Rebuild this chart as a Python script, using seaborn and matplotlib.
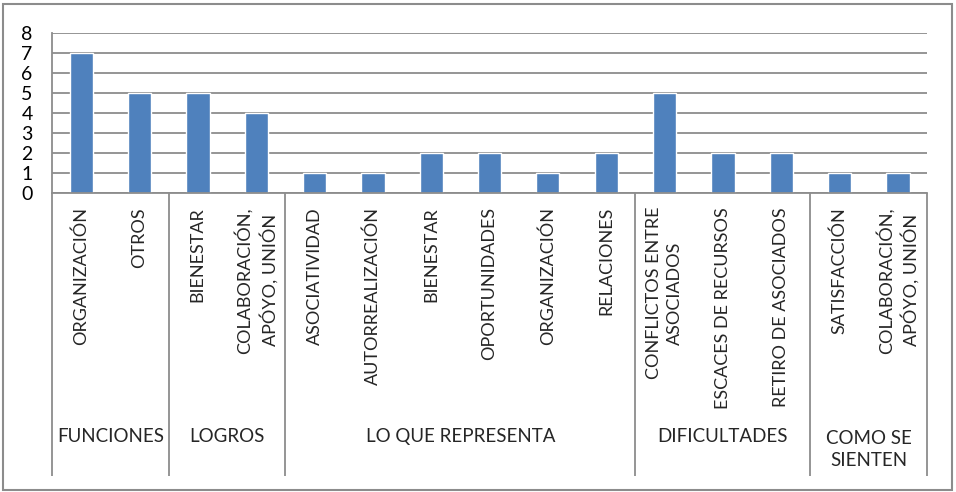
import pandas as pd
import seaborn as sns
import matplotlib.pyplot as plt
from matplotlib.patches import Rectangle
from matplotlib.transforms import blended_transform_factory

# data
grupos = ['FUNCIONES', 'LOGROS', 'LO QUE REPRESENTA', 'DIFICULTADES', 'COMO SE\nSIENTEN']
grupo_labels = [
    ['ORGANIZACIÓN', 'OTROS'],
    ['BIENESTAR', 'COLABORACIÓN,\nAPÓYO, UNIÓN'],
    ['ASOCIATIVIDAD', 'AUTORREALIZACIÓN', 'BIENESTAR', 'OPORTUNIDADES', 'ORGANIZACIÓN', 'RELACIONES'],
    ['CONFLICTOS ENTRE\nASOCIADOS', 'ESCACES DE RECURSOS', 'RETIRO DE ASOCIADOS'],
    ['SATISFACCIÓN', 'COLABORACIÓN,\nAPÓYO, UNIÓN'],
]
grupo_valores = [
    [7, 5],
    [5, 4],
    [1, 1, 2, 2, 1, 2],
    [5, 2, 2],
    [1, 1],
]

rows = []
for g, labs, vals in zip(grupos, grupo_labels, grupo_valores):
    for l, v in zip(labs, vals):
        rows.append({'grupo': g, 'etiqueta': l, 'valor': v, 'key': g + '|' + l})
df = pd.DataFrame(rows)

sns.set_style('white')
plt.rcParams['font.family'] = ['Lato', 'DejaVu Sans']

fig = plt.figure(figsize=(9.56, 4.92), dpi=100)
W, H = 956, 492
ax = fig.add_axes([52 / W, (H - 193) / H, 875 / W, 160 / H])

sns.barplot(data=df, x='key', y='valor', order=list(df['key']), color='#4F81BD',
            saturation=1, width=0.4, ax=ax)

ax.set_ylim(0, 8)
ax.set_yticks(range(0, 9))
ax.yaxis.grid(True, color='#8C8C8C', linewidth=1.3)
ax.set_axisbelow(True)
ax.set_xlabel('')
ax.set_ylabel('')
ax.tick_params(axis='y', length=0, pad=14, labelsize=14, labelcolor='black')
ax.tick_params(axis='x', length=0, pad=10)
ax.set_xticks(range(len(df)))
ax.set_xticklabels(df['etiqueta'], rotation=90, va='top', ha='center',
                   fontsize=13, multialignment='center', linespacing=1.4)

for s in ['top', 'right']:
    ax.spines[s].set_visible(False)
ax.spines['left'].set_color('#8C8C8C')
ax.spines['bottom'].set_color('#8C8C8C')
ax.spines['left'].set_linewidth(1.3)
ax.spines['bottom'].set_linewidth(1.3)

# group separators and group labels below the axis
trans = blended_transform_factory(ax.transData, ax.transAxes)
y_low = -(476 - 193) / 160
bounds = [-0.5]
pos = -0.5
for vals in grupo_valores:
    pos += len(vals)
    bounds.append(pos)
for b in bounds:
    ax.plot([b, b], [0, y_low], transform=trans, color='#8C8C8C', lw=1.3,
            clip_on=False, solid_capstyle='butt')
for g, a, b in zip(grupos, bounds[:-1], bounds[1:]):
    y_px = 449.5 if '\n' in g else 437
    ax.text((a + b) / 2, -(y_px - 193) / 160, g, transform=trans,
            ha='center', va='center', fontsize=13.5, linespacing=1.35)
ax.set_xlim(bounds[0], bounds[-1])

# outer chart border
fig.patches.append(Rectangle((3 / W, 2 / H), 949 / W, 486 / H, transform=fig.transFigure,
                             fill=False, edgecolor='#8C8C8C', linewidth=1.5))

fig.savefig('out.png', dpi=100)
